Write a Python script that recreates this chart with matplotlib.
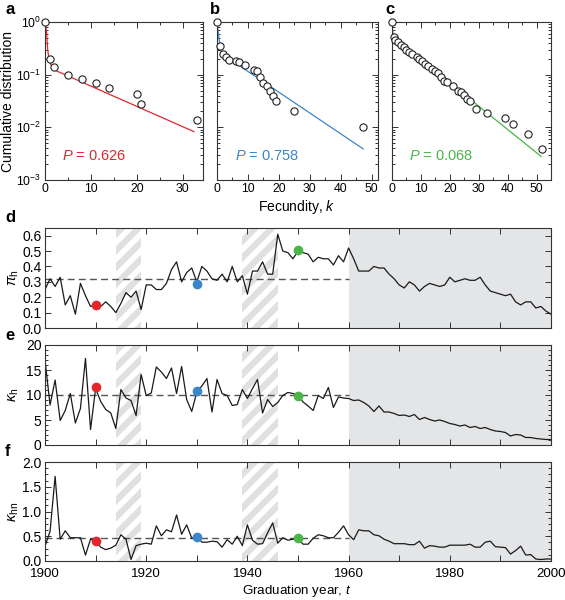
"""Fecundity distributions (a-c) and yearly parameters (d-f)."""

import matplotlib
import numpy as np

matplotlib.use("Agg")
import matplotlib.pyplot as plt  # noqa: E402
import matplotlib.ticker as mticker  # noqa: E402

plt.rcParams["font.family"] = ["Liberation Sans", "DejaVu Sans"]
plt.rcParams["mathtext.fontset"] = "custom"
plt.rcParams["mathtext.rm"] = "Liberation Sans"
plt.rcParams["mathtext.it"] = "Liberation Sans:italic"
plt.rcParams["hatch.linewidth"] = 4.5

RED = "#E3262C"
BLUE = "#3A86C8"
GREEN = "#4BB54A"

# ---- panels a-c: cumulative distribution of fecundity ----
a_k = [0, 1, 2, 5, 8, 11, 14, 20, 21, 33]
a_p = [1.0, 0.20, 0.14, 0.10, 0.083, 0.070, 0.056, 0.043, 0.028, 0.014]
a_fit_k = [0, 0.36, 0.58, 0.94, 1.66, 2.5, 32.4]
a_fit_p = [1.0, 0.62, 0.30, 0.18, 0.133, 0.118, 0.0083]

b_k = [0, 1, 2, 3, 4, 6, 7, 9, 12, 13, 14, 15, 16, 17, 18, 19, 25, 47]
b_p = [1.0, 0.344, 0.246, 0.216, 0.192, 0.184, 0.174, 0.154, 0.124, 0.115,
       0.090, 0.071, 0.062, 0.050, 0.040, 0.031, 0.020, 0.010]
b_fit_k = [0, 0.6, 1.3, 2.8, 47.2]
b_fit_p = [1.0, 0.5, 0.28, 0.222, 0.0039]

c_k = [0, 0.7, 1, 2, 3, 4, 5, 6, 7, 8.5, 9.5, 10.5, 11.5, 12.5, 13.7, 14.8,
       16, 17, 18, 19, 21, 23, 24, 25, 26, 27, 29, 33, 39, 42, 47, 52]
c_p = [1.0, 0.53, 0.46, 0.41, 0.37, 0.33, 0.30, 0.265, 0.246, 0.22, 0.20,
       0.178, 0.162, 0.143, 0.13, 0.119, 0.107, 0.089, 0.077, 0.074, 0.060,
       0.050, 0.046, 0.041, 0.034, 0.031, 0.022, 0.019, 0.0149, 0.0115,
       0.0075, 0.0038]
c_fit_k = [0, 0.3, 0.6, 51.6]
c_fit_p = [1.0, 0.65, 0.50, 0.0028]

p_labels = ["0.626", "0.758", "0.068"]

# ---- panels d-f: yearly series ----
years = list(range(1900, 2001))
pi_h = [
    0.25, 0.32, 0.27, 0.33, 0.15, 0.21, 0.09, 0.29, 0.21, 0.14,
    0.15, 0.14, 0.17, 0.14, 0.10, 0.16, 0.23, 0.20, 0.24, 0.12,
    0.28, 0.28, 0.25, 0.25, 0.29, 0.38, 0.43, 0.30, 0.36, 0.39,
    0.30, 0.40, 0.37, 0.32, 0.31, 0.35, 0.30, 0.40, 0.30, 0.34,
    0.22, 0.37, 0.37, 0.43, 0.35, 0.35, 0.61, 0.50, 0.49, 0.45,
    0.50, 0.49, 0.48, 0.43, 0.46, 0.45, 0.45, 0.41, 0.47, 0.43,
    0.52, 0.45, 0.37, 0.37, 0.37, 0.40, 0.39, 0.39, 0.35, 0.32,
    0.28, 0.26, 0.30, 0.28, 0.24, 0.27, 0.29, 0.28, 0.27, 0.28,
    0.33, 0.30, 0.31, 0.32, 0.31, 0.31, 0.33, 0.28, 0.24, 0.23,
    0.22, 0.21, 0.22, 0.17, 0.15, 0.17, 0.17, 0.13, 0.14, 0.11,
    0.09,
]
kappa_h = [
    17.0, 8.0, 13.0, 4.9, 6.9, 10.3, 4.4, 7.3, 17.3, 3.1,
    11.3, 8.7, 7.1, 6.4, 3.3, 11.1, 9.4, 8.9, 5.9, 14.1,
    9.9, 10.4, 15.6, 14.6, 13.3, 15.4, 10.3, 15.7, 9.1, 6.7,
    10.6, 11.8, 13.3, 6.6, 13.1, 10.3, 9.9, 7.9, 8.1, 11.1,
    9.3, 11.3, 13.1, 6.4, 9.1, 7.7, 8.5, 9.9, 10.5, 10.3,
    9.9, 8.6, 7.8, 6.9, 9.9, 9.3, 11.5, 7.5, 9.6, 9.4,
    9.3, 8.9, 9.0, 8.5, 7.8, 6.7, 7.8, 6.6, 6.6, 6.3,
    5.9, 6.0, 5.7, 6.1, 5.1, 5.5, 5.1, 4.8, 5.0, 4.7,
    4.3, 4.1, 3.8, 4.0, 3.5, 3.7, 3.3, 3.5, 3.1, 2.8,
    2.7, 2.5, 1.8, 2.1, 2.0, 1.5, 1.5, 1.3, 1.2, 1.1,
    1.1,
]
kappa_hn = [
    0.30, 0.60, 1.71, 0.44, 0.61, 0.47, 0.47, 0.47, 0.12, 0.44,
    0.42, 0.28, 0.23, 0.26, 0.32, 0.53, 0.44, 0.03, 0.31, 0.34,
    0.36, 0.34, 0.71, 0.51, 0.63, 0.59, 0.93, 0.54, 0.73, 0.46,
    0.50, 0.38, 0.38, 0.40, 0.39, 0.28, 0.43, 0.34, 0.50, 0.31,
    0.73, 0.42, 0.34, 0.35, 0.57, 0.77, 0.36, 0.47, 0.42, 0.44,
    0.45, 0.34, 0.34, 0.46, 0.53, 0.51, 0.47, 0.47, 0.58, 0.71,
    0.53, 0.43, 0.63, 0.61, 0.61, 0.53, 0.51, 0.44, 0.40, 0.35,
    0.35, 0.35, 0.33, 0.33, 0.40, 0.26, 0.31, 0.30, 0.28, 0.28,
    0.32, 0.32, 0.32, 0.32, 0.34, 0.28, 0.28, 0.38, 0.40, 0.29,
    0.28, 0.27, 0.14, 0.21, 0.30, 0.12, 0.13, 0.04, 0.03, 0.04,
    0.04,
]
series_means = [0.32, 10.0, 0.47]
dot_years = [1910, 1930, 1950]
dots_pi = [0.148, 0.284, 0.505]
dots_kh = [11.6, 10.8, 9.9]
dots_khn = [0.40, 0.485, 0.458]
war_spans = [(1914, 1919), (1939, 1946)]
modern_span = (1960, 2000)

W, H = 565, 600
fig = plt.figure(figsize=(W / 100, H / 100), dpi=100)


def add_ax(left, right, top, bottom):
    return fig.add_axes([left / W, 1 - bottom / H, (right - left) / W, (bottom - top) / H])


def style(ax):
    for sp in ax.spines.values():
        sp.set_linewidth(0.8)
        sp.set_color("#333333")
    ax.tick_params(which="both", direction="in", top=True, right=True,
                   width=0.7, color="#333333", labelsize=8.8, pad=2.5)
    ax.tick_params(which="major", length=4)
    ax.tick_params(which="minor", length=2.3)


# ---- a-c ----
dist_panels = [
    (a_k, a_p, a_fit_k, a_fit_p, RED, (45, 203), 34.4, "a"),
    (b_k, b_p, b_fit_k, b_fit_p, BLUE, (217, 378), 52, "b"),
    (c_k, c_p, c_fit_k, c_fit_p, GREEN, (392, 551), 55, "c"),
]
for i, (k, p, fk, fp, col, (l, r), xmax, letter) in enumerate(dist_panels):
    ax = add_ax(l, r, 22, 180)
    ax.set_yscale("log")
    ax.set_ylim(1e-3, 1.0)
    ax.set_xlim(0, xmax)
    ax.plot(fk, fp, color=col, lw=0.9, zorder=2)
    ax.plot(k, p, "o", ms=5.2, mfc="white", mec="#222222", mew=0.8,
            clip_on=False, zorder=3)
    ax.xaxis.set_major_locator(mticker.MultipleLocator(10))
    ax.xaxis.set_minor_locator(mticker.MultipleLocator(5))
    ax.yaxis.set_major_locator(mticker.LogLocator(base=10, numticks=10))
    ax.yaxis.set_minor_locator(mticker.LogLocator(base=10, subs=np.arange(2, 10), numticks=10))
    style(ax)
    if i > 0:
        ax.tick_params(labelleft=False)
    else:
        ax.set_ylabel("Cumulative distribution", fontsize=10, labelpad=1)
    ax.text(0.11, 0.15, r"$P$ = " + p_labels[i], transform=ax.transAxes,
            color=col, fontsize=10.5, va="center")
    fig.text((l - 40) / W if i == 0 else (l - 7) / W, 1 - 10 / H, letter,
             fontsize=12, fontweight="bold", va="center")

fig.text(297 / W, 1 - 207 / H, r"Fecundity, $k$", fontsize=10, ha="center", va="center")

# ---- d-f ----
time_panels = [
    (pi_h, dots_pi, 228, 328, (0, 0.65), 0.1, None, r"$\pi_{\rm h}$", "d"),
    (kappa_h, dots_kh, 345, 445, (0, 20), 5, 1, r"$\kappa_{\rm h}$", "e"),
    (kappa_hn, dots_khn, 462, 561, (0, 2.0), 0.5, 0.125, r"$\kappa_{\rm hn}$", "f"),
]
for j, (vals, dots, top, bot, ylim, major, minor, ylab, letter) in enumerate(time_panels):
    ax = add_ax(45, 551, top, bot)
    ax.set_xlim(1900, 2000)
    ax.set_ylim(*ylim)
    ax.axvspan(*modern_span, facecolor="#E4E5E7", edgecolor="none", zorder=0)
    for s0, s1 in war_spans:
        ax.axvspan(s0, s1, facecolor="none", edgecolor="#E0E0E0", hatch="//",
                   linewidth=0, zorder=0.5)
    ax.plot([1900, 1960], [series_means[j]] * 2, color="#555555", lw=1.0,
            dashes=(5, 3), zorder=1)
    ax.plot(years, vals, color="#1a1a1a", lw=0.9, zorder=2)
    for yr, v, col in zip(dot_years, dots, [RED, BLUE, GREEN]):
        ax.plot(yr, v, "o", ms=7, color=col, mec="none", zorder=3)
    ax.set_xticks(range(1900, 2001, 10))
    ax.set_xticklabels([str(y) if (y - 1900) % 20 == 0 else "" for y in range(1900, 2001, 10)])
    ax.yaxis.set_major_locator(mticker.MultipleLocator(major))
    if minor:
        ax.yaxis.set_minor_locator(mticker.MultipleLocator(minor))
    if j != 1:
        ax.yaxis.set_major_formatter(mticker.FormatStrFormatter("%.1f"))
    style(ax)
    ax.tick_params(axis="y", labelsize=10)
    ax.tick_params(axis="x", labelsize=9.6, pad=5)
    if j < 2:
        ax.tick_params(labelbottom=False)
    fig.text(14 / W, 1 - (top + bot) / 2 / H, ylab, rotation=90, fontsize=10.5,
             ha="center", va="center")
    fig.text(5 / W, 1 - (top - 10) / H, letter, fontsize=12, fontweight="bold", va="center")

fig.text(297 / W, 1 - 591 / H, r"Graduation year, $t$", fontsize=9.6, ha="center", va="center")

fig.savefig("out.png", dpi=100)
